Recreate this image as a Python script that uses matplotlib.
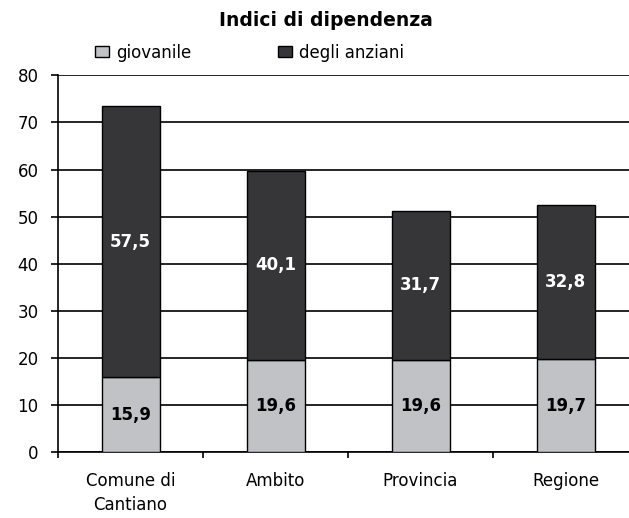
import matplotlib
matplotlib.use("Agg")
import matplotlib.pyplot as plt
import numpy as np

# data
categories = ["Comune di\nCantiano", "Ambito", "Provincia", "Regione"]
giovanile = [15.9, 19.6, 19.6, 19.7]
anziani = [57.5, 40.1, 31.7, 32.8]
y_ticks = [0, 10, 20, 30, 40, 50, 60, 70, 80]

plt.rcParams['font.family'] = ['DejaVu Sans']

fig = plt.figure(figsize=(6.29, 5.18), dpi=100)
# plot area runs slightly past the right edge, like the source image
ax = fig.add_axes([58 / 629, 65.7 / 518, 580 / 629, 377 / 518])

x = np.arange(len(categories))
light = '#c0c2c6'
dark = '#363638'

b1 = ax.bar(x, giovanile, width=0.4, color=light, edgecolor='black',
            linewidth=1.0, zorder=3, label='giovanile')
b2 = ax.bar(x, anziani, width=0.4, bottom=giovanile, color=dark,
            edgecolor='black', linewidth=1.0, zorder=3, label='degli anziani')

def fmt(v):
    return f"{v:.1f}".replace('.', ',')

ax.bar_label(b1, labels=[fmt(v) for v in giovanile], label_type='center',
             fontsize=12, fontweight='bold', color='black', zorder=4)
ax.bar_label(b2, labels=[fmt(v) for v in anziani], label_type='center',
             fontsize=12, fontweight='bold', color='white', zorder=4)

ax.set_xlim(-0.5, len(categories) - 0.5)
ax.set_ylim(0, 80)
ax.set_yticks(y_ticks)
ax.tick_params(axis='y', labelsize=12, length=5, width=1.2, pad=9, direction='out')

ax.set_xticks(x)
ax.set_xticklabels(categories, fontsize=12, linespacing=1.45)
ax.set_xticks(np.arange(len(categories) + 1) - 0.5, minor=True)
ax.tick_params(axis='x', which='major', length=0, pad=14)
ax.tick_params(axis='x', which='minor', length=4.3, width=1.2, direction='out')

ax.yaxis.grid(True, color='black', linewidth=1.2, zorder=0)
ax.set_axisbelow(True)
for side in ['top', 'right']:
    ax.spines[side].set_visible(False)
for side in ['left', 'bottom']:
    ax.spines[side].set_linewidth(1.2)
    ax.spines[side].set_color('black')

fig.text(326 / 629, 1 - 25.7 / 518, "Indici di dipendenza", ha='center',
         va='baseline', fontsize=13.5, fontweight='bold')

fig.legend(handles=[b1, b2], loc='center left',
           bbox_to_anchor=(95 / 629, 1 - 52.5 / 518), ncol=2, frameon=False,
           fontsize=12, handlelength=0.84, handleheight=0.66,
           handletextpad=0.42, columnspacing=5.2, borderpad=0,
           borderaxespad=0)

fig.savefig("out.png", dpi=100)
